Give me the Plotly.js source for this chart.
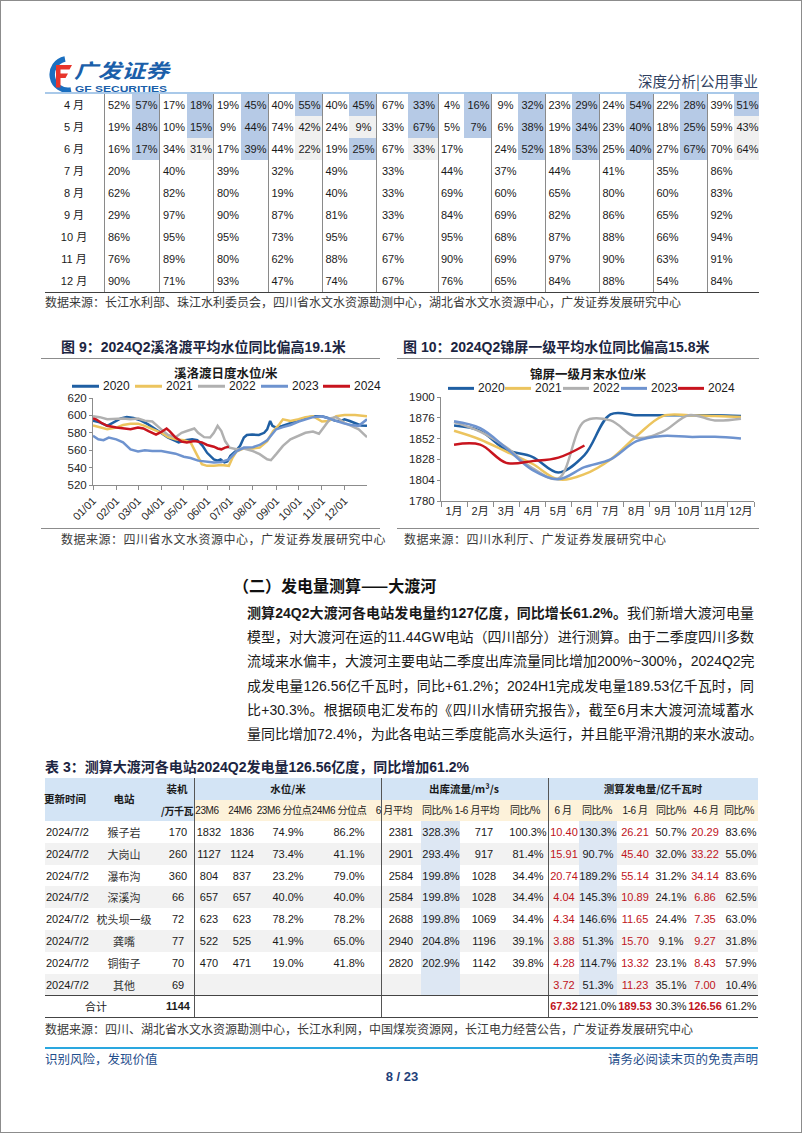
<!DOCTYPE html>
<html>
<head>
<meta charset="utf-8">
<script src="https://cdn.plot.ly/plotly-3.0.1.min.js"></script>
<style>
  body { margin: 0; background: #fff; }
  #page {
    position: relative; width: 802px; height: 1133px; box-sizing: border-box;
    border: 1px solid #8c8c8c; background: #fff; overflow: hidden;
    font-family: 'Liberation Sans', Arial, 'Noto Sans CJK SC', sans-serif; color: #1a1a1a;
  }
  .chart { position: absolute; }
</style>
</head>
<body>
<div id="page">
  <svg style="position:absolute;left:43px;top:54px" width="135" height="38" viewBox="0 0 135 38">
    <path d="M21 4 A15.5 15.5 0 1 0 27 35" stroke="#1a6fc0" stroke-width="5.5" fill="none"/>
    <path d="M12 10 h16 l-2.5 4.5 h-9 v4 h7.5 l-2.5 4.5 h-5 v9.5 h-4.5z" fill="#e8352b"/>
    <text x="30" y="23" font-size="19.5" font-weight="bold" font-style="italic" fill="#1b5faa"
          font-family="Noto Sans CJK SC" textLength="95" lengthAdjust="spacingAndGlyphs">广发证券</text>
    <text x="31" y="37" font-size="8.5" font-weight="bold" fill="#1b5faa" font-family="Liberation Sans"
          textLength="92" lengthAdjust="spacingAndGlyphs">GF SECURITIES</text>
  </svg>
  <div id="chart9" class="chart" style="left:40px;top:360px;width:348px;height:170px"></div>
  <div id="chart10" class="chart" style="left:395px;top:360px;width:370px;height:165px"></div>
</div>
<script>
// ---------- top table (previous page continued) ----------
const tblMonths = ['4 月', '5 月', '6 月', '7 月', '8 月', '9 月', '10 月', '11 月', '12 月'];
const tblHist = [
  [52, 17, 19, 40, 40, 67, 4, 9, 23, 24, 22, 39],
  [19, 10, 9, 74, 24, 33, 5, 6, 19, 23, 18, 59],
  [16, 34, 17, 44, 19, 67, 17, 24, 18, 25, 27, 70],
  [20, 40, 39, 32, 49, 33, 44, 37, 44, 41, 35, 86],
  [62, 82, 80, 19, 40, 33, 69, 60, 65, 80, 60, 83],
  [29, 97, 90, 87, 81, 33, 84, 69, 82, 86, 65, 92],
  [86, 95, 95, 73, 95, 67, 95, 68, 87, 88, 66, 94],
  [76, 89, 80, 62, 88, 67, 90, 69, 97, 90, 63, 91],
  [90, 71, 93, 47, 74, 67, 76, 65, 84, 88, 54, 84]
];
const tblCur = [
  [57, 18, 45, 55, 45, 33, 16, 32, 29, 54, 28, 51],
  [48, 15, 44, 42, 9, 67, 7, 38, 34, 40, 25, 43],
  [17, 31, 39, 22, 25, 33, null, 52, 53, 40, 67, 64]
];
// B = blue mark, G = grey mark
const tblMark = [
  ['B', 'B', 'B', 'B', 'B', 'B', 'B', 'B', 'B', 'B', 'B', 'B'],
  ['B', 'B', 'B', 'G', 'G', 'B', 'B', 'B', 'B', 'B', 'B', 'G'],
  ['B', 'G', 'B', 'G', 'B', 'G', '', 'B', 'B', 'B', 'B', 'G']
];

// ---------- figure 9: 溪洛渡 daily level ----------
const d20 = ['01-01','01-10','01-20','02-07','02-15','02-24','03-05','03-14','03-23','04-01','04-10','04-19','04-24','05-03','05-12','05-19','05-26','06-01','06-05','06-10','06-15','06-19','06-24','06-28','07-02','07-09','07-15','07-20','07-24','07-31','08-09','08-16','08-20','08-24','08-27','09-01','09-09','09-18','09-27','10-05','10-14','10-23','11-01','11-09','11-18','11-25','12-01','12-08','12-17','12-23','12-31'];
const v20 = [594,592,588,596.5,598,597,594,590,585,580,574.5,571,569,571.5,572.5,571.5,565,557,553.5,549.5,548,549.5,546,547,553.5,559,565,574.5,577.5,578,577.5,580,584,593.5,588,586,588,590.5,593,595.5,598,599,599,597,594,593,595.5,593.5,590,588.5,588];
const d21 = ['01-01','01-10','01-20','02-01','02-10','02-20','03-01','03-10','03-20','04-01','04-10','04-20','05-01','05-10','05-18','05-25','06-01','06-10','06-20','06-30','07-05','07-10','07-20','08-01','08-10','08-20','08-28','09-05','09-10','09-20','10-01','10-10','10-20','11-01','11-10','11-20','12-01','12-15','12-31'];
const v21 = [588.5,586,584,586,589,590.5,590.5,588,584,580,575,572.5,571.5,569,555.5,544,542,542,543,542,551.5,558.5,562,562,563,570.5,582,589.5,595.5,593.5,595.5,598,599,593,593.5,599,600.5,600.5,599];
const d22 = ['01-01','01-10','01-20','02-01','02-10','02-20','03-01','03-10','03-20','04-01','04-10','04-20','04-28','05-05','05-10','05-15','05-20','05-28','06-05','06-10','06-15','06-20','06-25','07-01','07-10','07-20','08-01','08-10','08-20','08-25','09-01','09-10','09-20','10-01','10-10','10-20','10-28','11-05','11-12','11-20','12-01','12-10','12-20','12-31'];
const v22 = [599,598,595.5,596.5,596.5,595.5,596.5,594,593,584,577.5,575,580,582,583.5,585,580,575,574.5,580,588,582,570.5,563,561,562,559,555.5,549.5,548.5,555.5,565,572.5,576.5,580,581.5,579,588,596.5,598,591.5,588,584,575];
const d23 = ['01-01','01-08','01-15','01-22','02-01','02-10','02-20','03-01','03-10','03-20','04-01','04-10','04-20','05-01','05-10','05-20','06-01','06-10','06-20','06-30','07-10','07-20','08-01','08-10','08-20','09-01','09-10','09-20','10-01','10-10','10-20','11-01','11-10','11-20','12-01','12-10','12-20','12-31'];
const v23 = [576.5,572.5,571.5,574.5,572.5,569,561,558.5,560,559,559,557.5,556,552.5,551,548,546.5,546,546.5,549.5,558.5,563,563.5,566,571.5,584,586.5,589,593,595.5,598,599,596.5,593.5,590.5,589,588,595.5];
const d24 = ['01-01','01-05','01-12','01-20','02-01','02-10','02-20','03-01','03-08','03-15','03-25','04-01','04-08','04-12','04-20','04-28','05-05','05-15','05-25','06-01','06-10','06-15','06-20','06-25','06-30'];
const v24 = [596.5,595.5,591.5,588,586,585,584,586,585,582,578,581,585,582,574.5,570,569,570.5,569,566,564,562,561,563,564];
const tick9 = ['01/01','02/01','03/01','04/01','05/01','06/01','07/01','08/01','09/01','10/01','11/01','12/01'];

// ---------- figure 10: 锦屏一级 month-end level ----------
const months10 = ['1月','2月','3月','4月','5月','6月','7月','8月','9月','10月','11月','12月'];
const jp20 = [1867, 1861, 1839, 1831, 1813, 1833, 1880, 1879, 1879, 1879, 1879, 1878];
const jp21 = [1861, 1851, 1837, 1823, 1805, 1811, 1828, 1855, 1878, 1879, 1878, 1877];
const jp22 = [1871, 1860, 1842, 1818, 1806, 1872, 1873, 1853, 1860, 1879, 1873, 1875];
const jp23 = [1872, 1864, 1841, 1816, 1805, 1819, 1828, 1849, 1855, 1854, 1854, 1852];
const jp24 = [1845, 1845, 1824, 1826, 1830, 1844];

const years = ['2020', '2021', '2022', '2023', '2024'];

// ---------- table 3: 大渡河 ----------
const t3Date = ['2024/7/2','2024/7/2','2024/7/2','2024/7/2','2024/7/2','2024/7/2','2024/7/2','2024/7/2'];
const t3Station = ['猴子岩','大岗山','瀑布沟','深溪沟','枕头坝一级','龚嘴','铜街子','其他'];
const t3Cap = [170, 260, 360, 66, 72, 77, 70, 69];
const t3Lvl23 = [1832, 1127, 804, 657, 623, 522, 470, null];
const t3Lvl24 = [1836, 1124, 837, 657, 623, 525, 471, null];
const t3Pct23 = ['74.9%','73.4%','23.2%','40.0%','78.2%','41.9%','19.0%', null];
const t3Pct24 = ['86.2%','41.1%','79.0%','40.0%','78.2%','65.0%','41.8%', null];
const t3FlowJun = [2381, 2901, 2584, 2584, 2688, 2940, 2820, null];
const t3FlowJunYoy = ['328.3%','293.4%','199.8%','199.8%','199.8%','204.8%','202.9%', null];
const t3FlowH1 = [717, 917, 1028, 1028, 1069, 1196, 1142, null];
const t3FlowH1Yoy = ['100.3%','81.4%','34.4%','34.4%','34.4%','39.1%','39.8%', null];
const t3GenJun = ['10.40','15.91','20.74','4.04','4.34','3.88','4.28','3.72'];
const t3GenJunYoy = ['130.3%','90.7%','189.2%','145.3%','146.6%','51.3%','114.7%','51.3%'];
const t3GenH1 = ['26.21','45.40','55.14','10.89','11.65','15.70','13.32','11.23'];
const t3GenH1Yoy = ['50.7%','32.0%','31.2%','24.1%','24.4%','9.1%','23.1%','35.1%'];
const t3GenQ2 = ['20.29','33.22','34.14','6.86','7.35','9.27','8.43','7.00'];
const t3GenQ2Yoy = ['83.6%','55.0%','83.6%','62.5%','63.0%','31.8%','57.9%','10.4%'];
const t3Total = ['合计', '1144', '67.32', '121.0%', '189.53', '30.3%', '126.56', '61.2%'];
const t3Groups = ['水位/米', '出库流量/m³/s', '测算发电量/亿千瓦时'];
const t3Sub = ['23M6','24M6','23M6 分位点','24M6 分位点','6 月平均','同比/%','1-6 月平均','同比/%','6 月','同比/%','1-6 月','同比/%','4-6 月','同比/%'];

// ---------- helpers ----------
const page = document.getElementById('page');
function el(css, html) {
  const d = document.createElement('div');
  d.style.cssText = 'position:absolute;' + css;
  if (html != null) d.innerHTML = html;
  page.appendChild(d);
  return d;
}
function put(s, x, y, align, css) {
  const w = 320, h = 20;
  const left = align === 'center' ? x - w / 2 : align === 'right' ? x - w : x;
  return el(`left:${left}px;top:${y - h / 2}px;width:${w}px;height:${h}px;line-height:${h}px;` +
    `text-align:${align};white-space:nowrap;${css || ''}`, s);
}
function rect(x0, y0, x1, y1, color) {
  return el(`left:${x0}px;top:${y0}px;width:${x1 - x0}px;height:${y1 - y0}px;background:${color}`);
}

// ---------- header ----------
put('深度分析|公用事业', 757, 80, 'right', 'font-size:14.5px;color:#2f3f5f;font-family:Noto Sans CJK SC');

// ---------- top table ----------
const tEdges = [44, 103, 131, 158, 186, 212, 240, 267, 294, 321, 348, 375, 407, 437, 463, 490, 517, 544, 571, 598, 625, 652, 679, 706, 733, 758];
const tTop = 93, tRow = 22;
rect(44, 91, 758, 93, '#a9c9e9');
tblMonths.forEach((m, r) => {
  const yc = tTop + tRow * r + tRow / 2;
  put(m, 73, yc, 'center', 'font-size:11px;');
  for (let p = 0; p < 12; p++) {
    const a = tEdges[1 + 2 * p], b = tEdges[2 + 2 * p], c = tEdges[3 + 2 * p];
    put(tblHist[r][p] + '%', (a + b) / 2 + 1, yc, 'center', 'font-size:11px;');
    if (r < tblCur.length) {
      const mk = tblMark[r][p];
      if (mk) rect(b, tTop + tRow * r, c, tTop + tRow * (r + 1), mk === 'B' ? '#b6cae6' : '#f0f0f0');
      if (tblCur[r][p] != null) put(tblCur[r][p] + '%', (b + c) / 2 + 1, yc, 'center', 'font-size:11px;');
    }
  }
});
for (let p = 0; p < 12; p++) rect(tEdges[1 + 2 * p] - 0.5, 93, tEdges[1 + 2 * p] + 1, tTop + tRow * 9, '#8a8a8a');
rect(44, tTop + tRow * 9, 758, tTop + tRow * 9 + 1, '#404040');
put('数据来源：长江水利部、珠江水利委员会，四川省水文水资源勘测中心，湖北省水文水资源中心，广发证券发展研究中心',
    44, 302, 'left', 'font-size:12px;color:#3a3a3a;width:720px');

// ---------- figure titles & sources ----------
put('图 9：2024Q2溪洛渡平均水位同比偏高19.1米', 60, 346, 'left', 'font-size:14px;font-weight:bold;color:#1c2541');
put('图 10：2024Q2锦屏一级平均水位同比偏高15.8米', 402, 346, 'left', 'font-size:14px;font-weight:bold;color:#1c2541');
rect(40, 357, 379, 358, '#8c8c8c');
rect(396, 357, 758, 358, '#8c8c8c');
rect(40, 527, 379, 528, '#8c8c8c');
rect(396, 527, 758, 528, '#8c8c8c');
put('数据来源：四川省水文水资源中心，广发证券发展研究中心', 60, 539, 'left', 'font-size:12px;color:#3a3a3a;letter-spacing:0.5px');
put('数据来源：四川水利厅、广发证券发展研究中心', 403, 539, 'left', 'font-size:12px;color:#3a3a3a;letter-spacing:0.5px');

// ---------- section text ----------
put('（二）发电量测算——大渡河', 232, 584, 'left', 'font-size:16px;font-weight:bold;color:#111;font-family:Noto Sans CJK SC');
const paraLines = [
  '<b>测算24Q2大渡河各电站发电量约127亿度，同比增长61.2%。</b>我们新增大渡河电量',
  '模型，对大渡河在运的11.44GW电站（四川部分）进行测算。由于二季度四川多数',
  '流域来水偏丰，大渡河主要电站二季度出库流量同比增加200%~300%，2024Q2完',
  '成发电量126.56亿千瓦时，同比+61.2%；2024H1完成发电量189.53亿千瓦时，同',
  '比+30.3%。根据硕电汇发布的《四川水情研究报告》，截至6月末大渡河流域蓄水',
  '量同比增加72.4%，为此各电站三季度能高水头运行，并且能平滑汛期的来水波动。'
];
paraLines.forEach((s, i) => {
  el(`left:246px;top:${600 + i * 24.2}px;width:507px;height:24px;line-height:24px;font-size:14px;` +
     `text-align:justify;text-align-last:justify;white-space:nowrap;color:#1a1a1a`, s);
});

// ---------- table 3 ----------
put('表 3：测算大渡河各电站2024Q2发电量126.56亿度，同比增加61.2%', 44, 766, 'left', 'font-size:14px;font-weight:bold;color:#1c2541');
const hTop = 777, hMid = 799, hBot = 820, rowH = 21.8;
rect(44, hTop, 757, hMid, '#d3e4f5');
rect(44, hMid, 193, hBot, '#d3e4f5');
rect(193, hMid, 757, hBot, '#fdf2da');
for (let r = 0; r < 8; r++) {
  if (r % 2 === 1) rect(44, hBot + r * rowH, 757, hBot + (r + 1) * rowH, '#f2f2f2');
}
rect(420, hBot, 459, hBot + 8 * rowH, '#dde7f3');
rect(578, hBot, 616, hBot + 8 * rowH, '#dde7f3');
[193, 380, 547].forEach(x => rect(x - 0.5, hTop, x + 0.5, hBot + 9 * rowH, '#555'));
rect(44, hBot + 8 * rowH, 757, hBot + 8 * rowH + 1, '#444');
rect(44, hBot + 9 * rowH, 757, hBot + 9 * rowH + 1, '#444');

const hdr = 'font-size:10.5px;font-weight:bold;font-family:Noto Sans CJK SC;color:#1a1a1a';
put('更新时间', 64, 798, 'center', hdr);
put('电站', 123, 798, 'center', hdr);
put('装机', 176, 788, 'center', hdr);
put('/万千瓦', 176, 810, 'center', hdr + ';font-size:10px;letter-spacing:-0.5px');
[287, 463, 652].forEach((x, i) => put(t3Groups[i], x, 788, 'center', hdr));
const subX = [206, 239, 283, 338, 393, 436, 476, 524, 562, 596, 634, 670, 705, 738];
t3Sub.forEach((s, i) => put(s, subX[i], 810, 'center', 'font-size:10px;letter-spacing:-0.4px;color:#1a1a1a'));

const colX = [null, 123, 177, 208, 241, 287, 348, 400, 440, 483, 527, 563, 597, 634, 670, 704, 740];
const red = '#c0141c';
const body = 'font-size:11px;color:#1a1a1a';
for (let r = 0; r < 8; r++) {
  const yc = hBot + r * rowH + rowH / 2;
  const vals = [t3Date[r], t3Station[r], t3Cap[r], t3Lvl23[r], t3Lvl24[r], t3Pct23[r], t3Pct24[r],
    t3FlowJun[r], t3FlowJunYoy[r], t3FlowH1[r], t3FlowH1Yoy[r],
    t3GenJun[r], t3GenJunYoy[r], t3GenH1[r], t3GenH1Yoy[r], t3GenQ2[r], t3GenQ2Yoy[r]];
  vals.forEach((v, c) => {
    if (v == null) return;
    if (c === 0) { put(v, 45, yc, 'left', body); return; }
    let css = body;
    if (c === 1) css += ';font-family:Noto Sans CJK SC;color:#333';
    if (c === 11 || c === 13 || c === 15) css += ';color:' + red;
    put(String(v), colX[c], yc, 'center', css);
  });
}
{
  const yc = hBot + 8 * rowH + rowH / 2;
  put(t3Total[0], 95, yc, 'center', 'font-size:11px;font-family:Noto Sans CJK SC');
  put(t3Total[1], 177, yc, 'center', 'font-size:11px;font-weight:bold');
  [563, 597, 634, 670, 704, 740].forEach((x, i) => {
    const isVal = i % 2 === 0;
    put(t3Total[2 + i], x, yc, 'center', 'font-size:11px;' + (isVal ? 'font-weight:bold;color:' + red : ''));
  });
}
put('数据来源：四川、湖北省水文水资源勘测中心，长江水利网，中国煤炭资源网，长江电力经营公告，广发证券发展研究中心',
    44, 1029, 'left', 'font-size:12px;color:#3a3a3a;width:720px');

// ---------- footer ----------
rect(44, 1046, 757, 1048, '#2aa7df');
put('识别风险，发现价值', 44, 1058, 'left', 'font-size:12.5px;color:#1f4e8c;font-family:Noto Sans CJK SC');
put('请务必阅读末页的免责声明', 757, 1058, 'right', 'font-size:12.5px;color:#1f4e8c;font-family:Noto Sans CJK SC');
put('8 / 23', 401, 1076, 'center', 'font-size:13px;font-weight:bold;color:#1f3f7a');

// ---------- charts ----------
const colors = ['#1f5fa3', '#ecc45e', '#b0b0b0', '#6e93cf', '#c8141e'];
const fontFam = 'Liberation Sans, Arial, Noto Sans CJK SC, sans-serif';

function legendParts(textX, lineLen, yPaper, px2paper) {
  const shapes = [], ann = [];
  textX.forEach((tx, i) => {
    shapes.push({ type: 'line', xref: 'paper', yref: 'paper',
      x0: px2paper(tx - 2 - lineLen), x1: px2paper(tx - 2), y0: yPaper, y1: yPaper,
      line: { color: colors[i], width: 3 } });
    ann.push({ xref: 'paper', yref: 'paper', x: px2paper(tx), y: yPaper, xanchor: 'left', yanchor: 'middle',
      text: years[i], showarrow: false, font: { size: 12, color: '#1a1a1a' } });
  });
  return { shapes, ann };
}

// figure 9 (page plot area x 92..366, y 397..484)
{
  const px = p => (p - 92) / 274;
  const lg = legendParts([100, 163, 226, 289, 351], 27, 1.135, px);
  const xs = [d20, d21, d22, d23, d24], ys = [v20, v21, v22, v23, v24];
  const traces = xs.map((d, i) => ({
    x: d.map(s => '2024-' + s), y: ys[i], type: 'scatter', mode: 'lines', name: years[i],
    line: { color: colors[i], width: 2.5 }
  }));
  Plotly.newPlot('chart9', traces, {
    width: 348, height: 170, margin: { l: 52, r: 22, t: 37, b: 46, pad: 0 },
    paper_bgcolor: 'rgba(0,0,0,0)', plot_bgcolor: 'rgba(0,0,0,0)', showlegend: false,
    font: { family: fontFam, size: 11.5, color: '#262626' },
    xaxis: { type: 'date', range: ['2024-01-01', '2024-12-31'],
      tickvals: tick9.map(t => '2024-' + t.replace('/', '-')), ticktext: tick9, tickangle: -45,
      showline: true, linecolor: '#8c8c8c', ticks: 'outside', ticklen: 4, tickcolor: '#8c8c8c',
      showgrid: false, zeroline: false, tickfont: { size: 11 } },
    yaxis: { range: [520, 620], tick0: 520, dtick: 20, showline: true, linecolor: '#8c8c8c',
      ticks: 'outside', ticklen: 3, tickcolor: '#8c8c8c', showgrid: false, zeroline: false,
      tickfont: { size: 11.5 } },
    shapes: lg.shapes,
    annotations: [{ xref: 'paper', yref: 'paper', x: px(225), y: 1.282, text: '<b>溪洛渡日度水位/米</b>',
      showarrow: false, xanchor: 'center', yanchor: 'middle', font: { size: 12.5, color: '#1a1a1a' } }].concat(lg.ann)
  }, { staticPlot: true, displayModeBar: false });
}

// figure 10 (page plot area x 440..753, y 396..500)
{
  const px = p => (p - 440) / 313;
  const lg = legendParts([475, 532, 590, 648, 705], 26, 1.083, px);
  const ys = [jp20, jp21, jp22, jp23, jp24];
  const traces = ys.map((y, i) => ({
    x: months10.slice(0, y.length), y: y, type: 'scatter', mode: 'lines', name: years[i],
    line: { color: colors[i], width: 2.5, shape: 'spline', smoothing: 1 }
  }));
  Plotly.newPlot('chart10', traces, {
    width: 370, height: 165, margin: { l: 45, r: 12, t: 36, b: 25, pad: 0 },
    paper_bgcolor: 'rgba(0,0,0,0)', plot_bgcolor: 'rgba(0,0,0,0)', showlegend: false,
    font: { family: fontFam, size: 11.5, color: '#262626' },
    xaxis: { type: 'category', categoryarray: months10, range: [-0.5, 11.5], tickson: 'boundaries',
      tickangle: 0, showline: true, linecolor: '#8c8c8c', ticks: 'outside', ticklen: 5, tickcolor: '#8c8c8c',
      showgrid: false, zeroline: false, tickfont: { size: 11 } },
    yaxis: { range: [1780, 1900], tick0: 1780, dtick: 24, showline: true, linecolor: '#8c8c8c',
      ticks: 'outside', ticklen: 3, tickcolor: '#8c8c8c', showgrid: false, zeroline: false,
      tickfont: { size: 11.5 } },
    shapes: lg.shapes,
    annotations: [{ xref: 'paper', yref: 'paper', x: px(587), y: 1.218, text: '<b>锦屏一级月末水位/米</b>',
      showarrow: false, xanchor: 'center', yanchor: 'middle', font: { size: 12.5, color: '#1a1a1a' } }].concat(lg.ann)
  }, { staticPlot: true, displayModeBar: false });
}
</script>
</body>
</html>
